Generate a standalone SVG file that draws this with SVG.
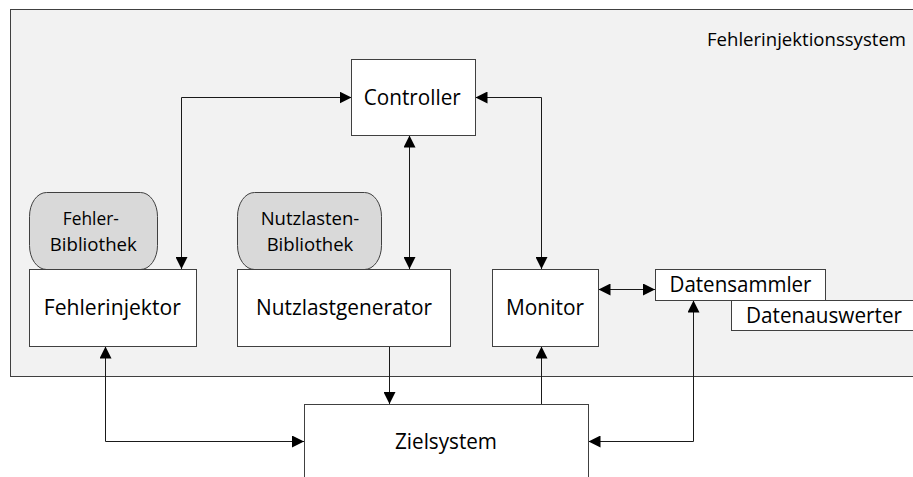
<svg xmlns="http://www.w3.org/2000/svg" width="913" height="477" viewBox="0 0 913 477">
<style>
  .box { fill: #ffffff; stroke: #404040; stroke-width: 1; }
  .lib { fill: #d9d9d9; stroke: #404040; stroke-width: 1; }
  .t { font-family: "Open Sans", "Liberation Sans", sans-serif; font-size: 21px; fill: #000000; text-anchor: middle; }
  .ts { font-family: "Open Sans", "Liberation Sans", sans-serif; font-size: 18px; fill: #000000; text-anchor: middle; }
  .conn { fill: none; stroke: #1a1a1a; stroke-width: 1; }
</style>
<defs>
  <marker id="ah" viewBox="0 0 12 12" refX="12" refY="6" markerWidth="12" markerHeight="12" markerUnits="userSpaceOnUse" orient="auto-start-reverse">
    <path d="M0,0 L12,6 L0,12 Z" fill="#000000"/>
  </marker>
</defs>
<rect width="913" height="477" fill="#ffffff"/>

<g id="fehlerinjektionssystem">
  <rect x="10.5" y="9.5" width="915" height="367" fill="#f2f2f2" stroke="#404040" stroke-width="1"/>
  <text class="ts" x="906" y="46" style="text-anchor:end" textLength="199" lengthAdjust="spacingAndGlyphs">Fehlerinjektionssystem</text>
</g>

<g id="connectors">
  <path class="conn" d="M351.5,97.5 H181.5 V269" marker-start="url(#ah)" marker-end="url(#ah)"/>
  <path class="conn" d="M475.5,97.5 H541.5 V269" marker-start="url(#ah)" marker-end="url(#ah)"/>
  <path class="conn" d="M409.5,135.5 V269" marker-start="url(#ah)" marker-end="url(#ah)"/>
  <path class="conn" d="M598.5,289.5 H655" marker-start="url(#ah)" marker-end="url(#ah)"/>
  <path class="conn" d="M389.5,346.5 V404" marker-end="url(#ah)"/>
  <path class="conn" d="M541.5,404 V346.5" marker-end="url(#ah)"/>
  <path class="conn" d="M105.5,346.5 V441.5 H304" marker-start="url(#ah)" marker-end="url(#ah)"/>
  <path class="conn" d="M693.5,300.5 V441.5 H588.5" marker-start="url(#ah)" marker-end="url(#ah)"/>
</g>

<g id="controller">
  <rect class="box" x="351.5" y="59.5" width="124" height="76"/>
  <text class="t" x="412.3" y="105" textLength="97" lengthAdjust="spacingAndGlyphs">Controller</text>
</g>

<g id="fehler-bibliothek">
  <rect class="lib" x="29.5" y="192.5" width="128" height="77" rx="17" ry="24"/>
  <text class="ts" x="90.8" y="225" textLength="56" lengthAdjust="spacingAndGlyphs">Fehler-</text>
  <text class="ts" x="93.3" y="250.7" textLength="87" lengthAdjust="spacingAndGlyphs">Bibliothek</text>
</g>

<g id="nutzlasten-bibliothek">
  <rect class="lib" x="237.5" y="192.5" width="144" height="77" rx="17" ry="24"/>
  <text class="ts" x="310" y="225" textLength="98.6" lengthAdjust="spacingAndGlyphs">Nutzlasten-</text>
  <text class="ts" x="310" y="250.7" textLength="86.7" lengthAdjust="spacingAndGlyphs">Bibliothek</text>
</g>

<g id="fehlerinjektor">
  <rect class="box" x="29.5" y="269.5" width="167" height="77"/>
  <text class="t" x="112.3" y="315" textLength="137" lengthAdjust="spacingAndGlyphs">Fehlerinjektor</text>
</g>

<g id="nutzlastgenerator">
  <rect class="box" x="237.5" y="269.5" width="213" height="77"/>
  <text class="t" x="344" y="314.5" textLength="176" lengthAdjust="spacingAndGlyphs">Nutzlastgenerator</text>
</g>

<g id="monitor">
  <rect class="box" x="492.5" y="269.5" width="106" height="77"/>
  <text class="t" x="545" y="315" textLength="78" lengthAdjust="spacingAndGlyphs">Monitor</text>
</g>

<g id="datenauswerter">
  <rect class="box" x="731.5" y="300.5" width="190" height="30"/>
  <text class="t" x="824" y="322.7" textLength="156" lengthAdjust="spacingAndGlyphs">Datenauswerter</text>
</g>

<g id="datensammler">
  <rect class="box" x="655.5" y="269.5" width="170" height="31"/>
  <text class="t" x="740.5" y="291.7" textLength="142" lengthAdjust="spacingAndGlyphs">Datensammler</text>
</g>

<g id="zielsystem">
  <rect class="box" x="304.5" y="404.5" width="284" height="90"/>
  <text class="t" x="446" y="449" textLength="102" lengthAdjust="spacingAndGlyphs">Zielsystem</text>
</g>
</svg>
